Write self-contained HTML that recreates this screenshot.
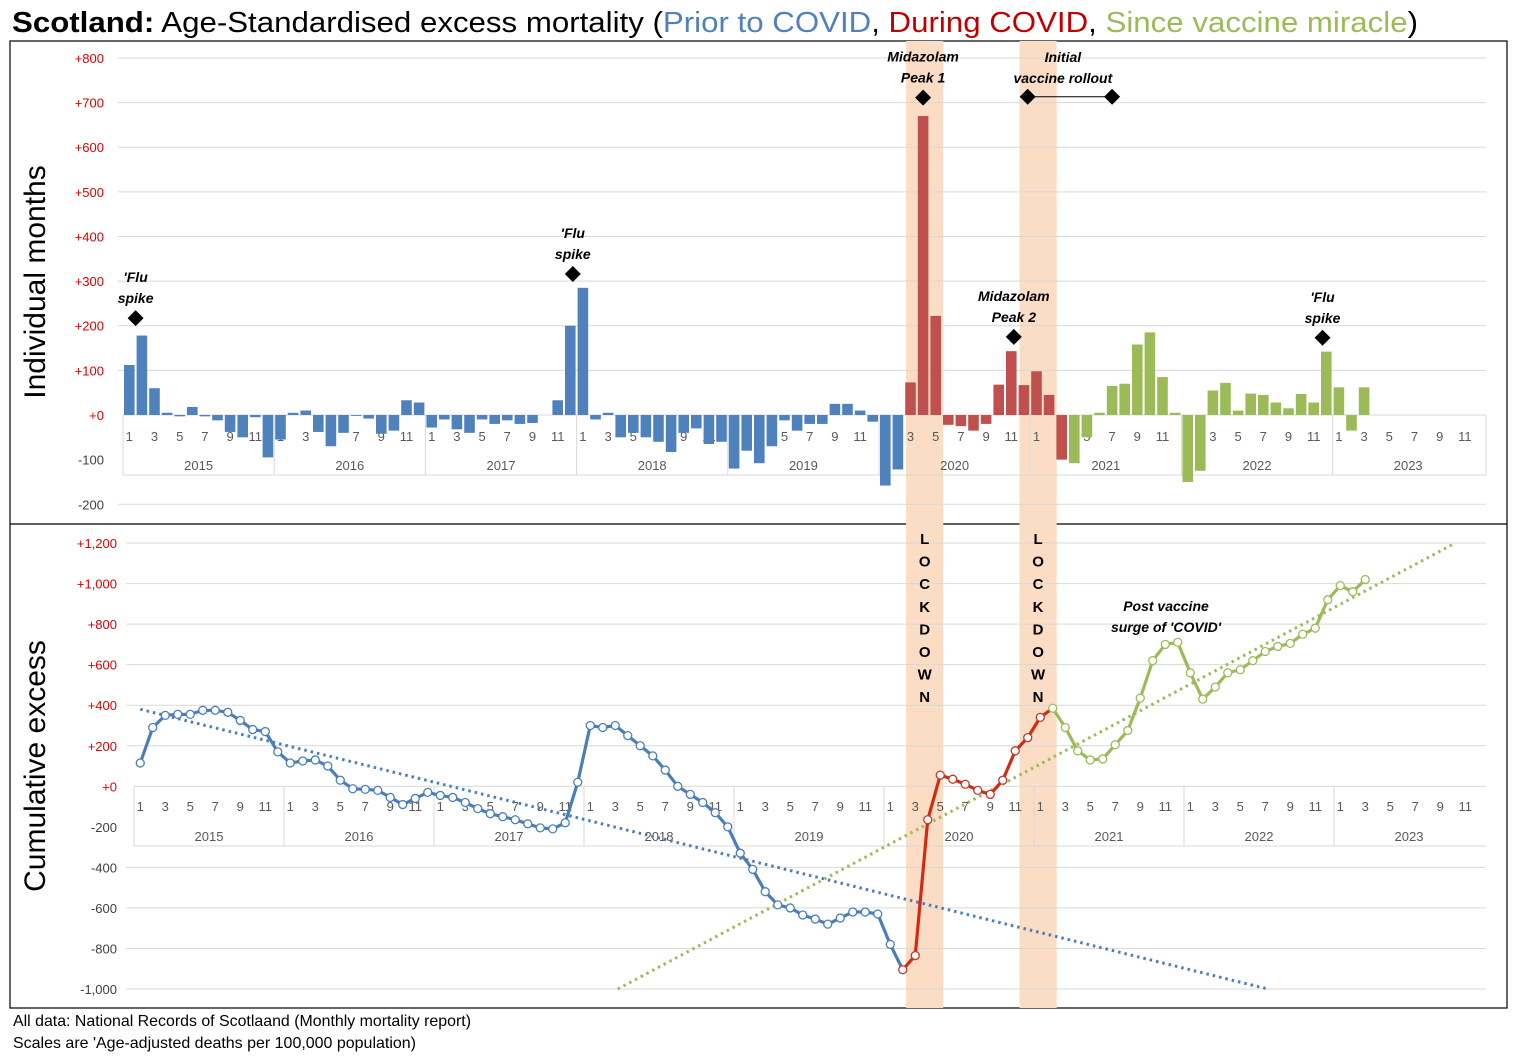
<!DOCTYPE html>
<html><head><meta charset="utf-8"><style>
body{margin:0;background:#fff}
svg{display:block;font-family:"Liberation Sans",Arial,sans-serif}
</style></head><body>
<svg id="c" width="1517" height="1056" viewBox="0 0 1517 1056">
<text x="12" y="32" font-size="29" textLength="1406" lengthAdjust="spacingAndGlyphs"><tspan font-weight="bold">Scotland:</tspan> Age-Standardised excess mortality (<tspan fill="#4f81bd">Prior to COVID</tspan>, <tspan fill="#c00000">During COVID</tspan>, <tspan fill="#9bbb59">Since vaccine miracle</tspan>)</text>
<rect x="10" y="41" width="1497" height="967" fill="none" stroke="#000" stroke-width="1.2"/>
<line x1="10" y1="524" x2="1507" y2="524" stroke="#000" stroke-width="1.2"/>
<g id="bands"></g>
<g id="top"></g>
<g id="bot"></g>
<text transform="translate(45,282) rotate(-90)" text-anchor="middle" font-size="30">Individual months</text>
<text transform="translate(45,766) rotate(-90)" text-anchor="middle" font-size="30">Cumulative excess</text>
<text x="13" y="1026" font-size="16" textLength="458" lengthAdjust="spacingAndGlyphs">All data: National Records of Scotlaand (Monthly mortality report)</text>
<text x="13" y="1048" font-size="16" textLength="403" lengthAdjust="spacingAndGlyphs">Scales are 'Age-adjusted deaths per 100,000 population)</text>
</svg>
<script>
const years=[2015,2016,2017,2018,2019,2020,2021,2022,2023];
const topTicks=[800,700,600,500,400,300,200,100,0,-100,-200];
const topTickLabels=["+800","+700","+600","+500","+400","+300","+200","+100","+0","-100","-200"];
const botTicks=[1200,1000,800,600,400,200,0,-200,-400,-600,-800,-1000];
const botTickLabels=["+1,200","+1,000","+800","+600","+400","+200","+0","-200","-400","-600","-800","-1,000"];
const monthly=[112,178,60,5,-3,18,-3,-12,-38,-50,-5,-95,
-55,5,10,-38,-70,-40,-2,-8,-42,-35,33,28,
-28,-10,-32,-40,-10,-20,-12,-20,-18,0,33,200,
285,-10,5,-50,-40,-50,-60,-83,-40,-30,-65,-60,
-120,-80,-108,-70,-12,-35,-20,-20,25,25,10,-15,
-158,-122,73,670,222,-22,-25,-35,-20,68,143,67,
98,45,-100,-108,-50,5,65,70,158,185,85,5,
-150,-125,55,72,10,48,45,28,15,47,28,142,
62,-35,62];
const cumulative=[115,290,350,355,355,375,375,365,325,280,270,170,
115,125,130,100,30,-12,-15,-20,-55,-90,-60,-30,
-45,-55,-80,-110,-135,-150,-165,-185,-205,-210,-180,20,
300,290,300,250,200,150,80,0,-40,-80,-130,-200,
-330,-410,-520,-585,-600,-635,-655,-680,-650,-620,-620,-630,
-780,-905,-835,-165,55,35,10,-20,-40,30,175,240,
340,385,290,175,130,135,205,275,435,620,700,710,
560,430,490,560,575,620,665,690,705,750,780,920,
990,960,1020];
const blueTrend=[[0,380],[90.2,-1000]];
const greenTrend=[[38.2,-1000],[105.2,1200]];
const bandMonths=[[62.15,65.1],[71.15,74.1]];
const topNotes=[{m:0.5,v:217,t:["'Flu","spike"]},{m:35.2,v:316,t:["'Flu","spike"]},{m:63,v:711,t:["Midazolam","Peak 1"]},{m:70.2,v:175,t:["Midazolam","Peak 2"]},{m:94.7,v:173,t:["'Flu","spike"]}];
const vaccine=[71.3,78.0];const vaccineV=713;

const NS="http://www.w3.org/2000/svg";
function mk(tag,attrs,parent,txt){const e=document.createElementNS(NS,tag);for(const k in attrs)e.setAttribute(k,attrs[k]);if(txt!==undefined)e.textContent=txt;parent.appendChild(e);return e;}
const T=document.getElementById('top'),B=document.getElementById('bot'),BD=document.getElementById('bands');
const tL=123,tW=12.6,bL=134,bW=12.5;
const tx=i=>tL+(i+0.5)*tW, ty=v=>415-v*0.4463;
const bx=i=>bL+(i+0.5)*bW, by=v=>786.3-v*0.2027;
function col(i){return i<62?'#4f81bd':(i<75?'#c0504d':'#9bbb59');}

bandMonths.forEach((b,k)=>{const r=mk('rect',{x:tL+b[0]*tW,y:41,width:(b[1]-b[0])*tW,height:967,fill:'#fbdcc4'},BD);
});

topTicks.forEach((v,k)=>{if(v!==0&&v!==-100){const g=mk('line',{x1:118,x2:1486,y1:ty(v),y2:ty(v),stroke:'#d9d9d9'},T);}
const t=mk('text',{x:104,y:ty(v)+5,'text-anchor':'end','font-size':13,fill:v>=0?'#e00000':'#404040'},T,topTickLabels[k]);});
[[415],[475]].forEach(a=>{const l=mk('line',{x1:tL,x2:1486,y1:a[0],y2:a[0],stroke:'#d9d9d9'},T);});
years.forEach((y,k)=>{const x0=tL+k*12*tW;const d=mk('line',{x1:x0,x2:x0,y1:415,y2:475,stroke:'#d9d9d9'},T);
for(let m=1;m<=11;m+=2){const t=mk('text',{x:tx(k*12+m-1),y:441,'text-anchor':'middle','font-size':13,fill:'#595959'},T,m);}
const yl=mk('text',{x:x0+6*tW,y:470,'text-anchor':'middle','font-size':13,fill:'#595959'},T,y);});
const tr=mk('line',{x1:1486,x2:1486,y1:415,y2:475,stroke:'#d9d9d9'},T);
monthly.forEach((v,i)=>{const y0=ty(0),y1=ty(v);const r=mk('rect',{x:tx(i)-5.3,y:Math.min(y0,y1),width:10.6,height:Math.abs(y1-y0),fill:col(i)},T);
});
function diamond(x,y,p){const d=mk('polygon',{points:`${x},${y-8} ${x+8},${y} ${x},${y+8} ${x-8},${y}`,fill:'#000'},p);return d;}
topNotes.forEach(n=>{const x=tx(n.m),y=ty(n.v);const d=diamond(x,y,T);
n.t.forEach((s,j)=>{const t=mk('text',{x:x,y:y-36+j*21,'text-anchor':'middle','font-size':14,'font-weight':'bold','font-style':'italic'},T,s);});});
{const y=ty(vaccineV);const l=mk('line',{x1:tx(vaccine[0]),x2:tx(vaccine[1]),y1:y,y2:y,stroke:'#000'},T);
vaccine.forEach(m=>{const d=diamond(tx(m),y,T);});
const cx=(tx(vaccine[0])+tx(vaccine[1]))/2-7;
["Initial","vaccine rollout"].forEach((s,j)=>{const t=mk('text',{x:cx,y:y-35+j*21,'text-anchor':'middle','font-size':14,'font-weight':'bold','font-style':'italic'},T,s);});}

botTicks.forEach((v,k)=>{if(v!==0&&v!==-200){const g=mk('line',{x1:126,x2:1486,y1:by(v),y2:by(v),stroke:'#d9d9d9'},B);}
const t=mk('text',{x:117,y:by(v)+5,'text-anchor':'end','font-size':13,fill:v>=0?'#e00000':'#404040'},B,botTickLabels[k]);});
[[by(0)],[846]].forEach(a=>{const l=mk('line',{x1:bL,x2:1486,y1:a[0],y2:a[0],stroke:'#d9d9d9'},B);});
years.forEach((y,k)=>{const x0=bL+k*12*bW;const d=mk('line',{x1:x0,x2:x0,y1:by(0),y2:846,stroke:'#d9d9d9'},B);
for(let m=1;m<=11;m+=2){const t=mk('text',{x:bx(k*12+m-1),y:811,'text-anchor':'middle','font-size':13,fill:'#595959'},B,m);}
const yl=mk('text',{x:x0+6*bW,y:841,'text-anchor':'middle','font-size':13,fill:'#595959'},B,y);});
[[blueTrend,'#4a7ebb','blue-trendline'],[greenTrend,'#9bbb59','green-trendline']].forEach(a=>{const l=mk('line',{x1:bx(a[0][0][0]),y1:by(a[0][0][1]),x2:bx(a[0][1][0]),y2:by(a[0][1][1]),stroke:a[1],'stroke-width':3,'stroke-dasharray':'2.5 4'},B);
});
const segs=[[0,61,'#4a7ebb','cumulative-line-pre-covid'],[61,73,'#d22b10','cumulative-line-covid'],[73,cumulative.length-1,'#9bbb59','cumulative-line-post-vaccine']];
segs.forEach(s=>{let d='';for(let i=s[0];i<=s[1];i++)d+=(i===s[0]?'M':'L')+bx(i)+','+by(cumulative[i]);
const p=mk('path',{d:d,fill:'none',stroke:s[2],'stroke-width':3.2,'stroke-linejoin':'round'},B);});
cumulative.forEach((v,i)=>{const c=i<61?'#4a7ebb':(i<73?'#c0392b':'#9bbb59');const p=mk('circle',{cx:bx(i),cy:by(v),r:4,fill:'#fff',stroke:c,'stroke-width':1.3},B);
});
bandMonths.forEach((b,k)=>{const x=tL+(b[0]+b[1])/2*tW;"LOCKDOWN".split('').forEach((ch,j)=>{const t=mk('text',{x:x,y:544+j*22.6,'text-anchor':'middle','font-size':15,'font-weight':'bold'},B,ch);
});});
["Post vaccine","surge of 'COVID'"].forEach((s,j)=>{const t=mk('text',{x:1166,y:611+j*21,'text-anchor':'middle','font-size':14,'font-weight':'bold','font-style':'italic'},B,s);});
</script>
</body></html>
